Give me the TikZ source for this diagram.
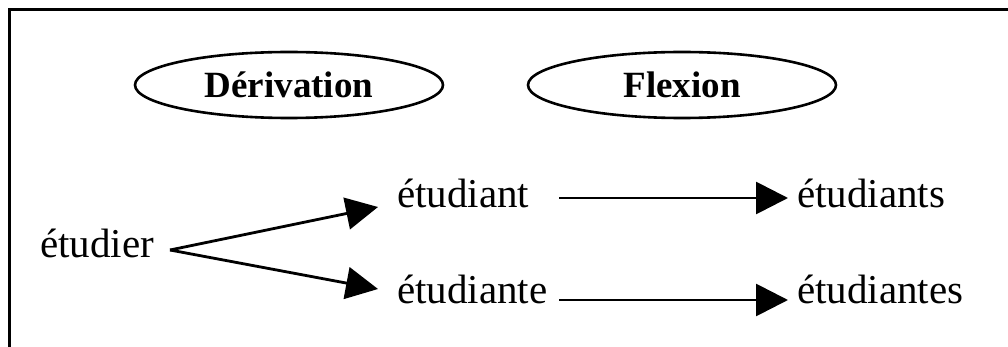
\documentclass[tikz,border=0pt]{standalone}
\usepackage{fontspec}
\setmainfont{Liberation Serif}
\usetikzlibrary{arrows.meta,shapes.geometric}
\begin{document}
\begin{tikzpicture}[x=1pt,y=-1pt,
  frame/.style={line width=3pt},
  oval/.style={ellipse,draw,line width=2.6pt,minimum width=308pt,minimum height=66pt,inner sep=0pt,font=\fontsize{37}{40}\selectfont\bfseries},
  word/.style={anchor=base west,inner sep=0pt,font=\fontsize{41}{44}\selectfont},
  arr/.style={line width=2.8pt,-{Triangle[length=32pt,width=32pt]}}]
\useasboundingbox (0,0) rectangle (1008,347);
\draw[frame] (1008,10) -- (9.5,10) -- (9.5,347);
\node[oval] (der) at (289,85) {Dérivation};
\node[oval] (flex) at (682,85) {Flexion};
\node[word] (etudier) at (40,257) {étudier};
\node[word] (etudiant) at (397,208) {étudiant};
\node[word] (etudiante) at (397,303) {étudiante};
\node[word] (etudiants) at (797,208) {étudiants};
\node[word] (etudiantes) at (797,303) {étudiantes};
\coordinate (apex) at (170,250);
\coordinate (t1) at (378,207);
\coordinate (t2) at (378,289);
\coordinate (s1) at (559,198);
\coordinate (e1) at (788,198);
\coordinate (s2) at (559,300);
\coordinate (e2) at (788,300);
\draw[arr] (apex) -- (t1);
\draw[arr] (apex) -- (t2);
\draw[arr] (s1) -- (e1);
\draw[arr] (s2) -- (e2);
\end{tikzpicture}
\end{document}
